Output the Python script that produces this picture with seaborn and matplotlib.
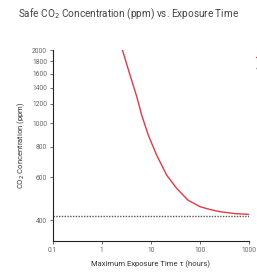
import matplotlib
matplotlib.use("Agg")
import matplotlib.pyplot as plt
import pandas as pd
import seaborn as sns
from matplotlib.ticker import FixedLocator, FixedFormatter, NullLocator

# values
exposure_hours = [2.58, 3.58, 5.14, 6.5, 8.85, 13.1, 21.0, 33.5,
                  57, 100, 160, 255, 516, 1000]
safe_ppm = [2030, 1630, 1290, 1081, 894, 740, 612, 540,
            483, 454, 442, 433, 425, 422]
baseline_ppm = 415
x_ticks = [0.1, 1, 10, 100, 1000]
x_tick_labels = ["0.1", "1", "10", "100", "1000"]
y_ticks = [400, 600, 800, 1000, 1200, 1400, 1600, 1800, 2000]

sns.set_theme(style="white")
plt.rcParams["font.family"] = ["Roboto", "DejaVu Sans"]

df = pd.DataFrame({"tau": exposure_hours, "ppm": safe_ppm})

fig = plt.figure(figsize=(2.57, 2.72), dpi=100)
ax = fig.add_axes([0.205, 0.114, 0.764, 0.702])

sns.lineplot(data=df, x="tau", y="ppm", color="#e03a44", linewidth=1.0, ax=ax)
ax.axhline(baseline_ppm, color="#555555", linestyle=(0, (1, 1)), linewidth=1.0)

ax.set_xscale("log")
ax.set_yscale("log")
ax.set_xlim(0.1, 1000)
ax.set_ylim(328, 2000)
ax.xaxis.set_major_locator(FixedLocator(x_ticks))
ax.xaxis.set_major_formatter(FixedFormatter(x_tick_labels))
ax.xaxis.set_minor_locator(NullLocator())
ax.yaxis.set_major_locator(FixedLocator(y_ticks))
ax.yaxis.set_major_formatter(FixedFormatter([str(v) for v in y_ticks]))
ax.yaxis.set_minor_locator(NullLocator())

for side in ("top", "right"):
    ax.spines[side].set_visible(False)
for side in ("left", "bottom"):
    ax.spines[side].set_color("#222222")
    ax.spines[side].set_linewidth(0.8)

ax.tick_params(axis="both", which="major", direction="out", length=2.5, width=0.6,
               color="#555555", labelsize=4.8, labelcolor="#666666", pad=1.5,
               left=True, bottom=True)

ax.set_xlabel("Maximum Exposure Time τ (hours)", fontsize=5.5, color="#333333", labelpad=5)
ax.set_ylabel("CO$_2$ Concentration (ppm)", fontsize=5.5, color="#333333", labelpad=4)
fig.suptitle("Safe CO$_2$ Concentration (ppm) vs. Exposure Time", x=0.5, y=0.975,
             fontsize=7.2, color="#444444")

# legend sits mostly outside the canvas; only the handle tips show
ax.legend(ax.get_lines()[:2], ["", ""], loc="upper left",
          bbox_to_anchor=(0.985, 0.81), bbox_transform=fig.transFigure,
          frameon=False, fontsize=4.5, handlelength=2.0, borderpad=0, labelspacing=0.9)

fig.savefig("out.png", dpi=100)
